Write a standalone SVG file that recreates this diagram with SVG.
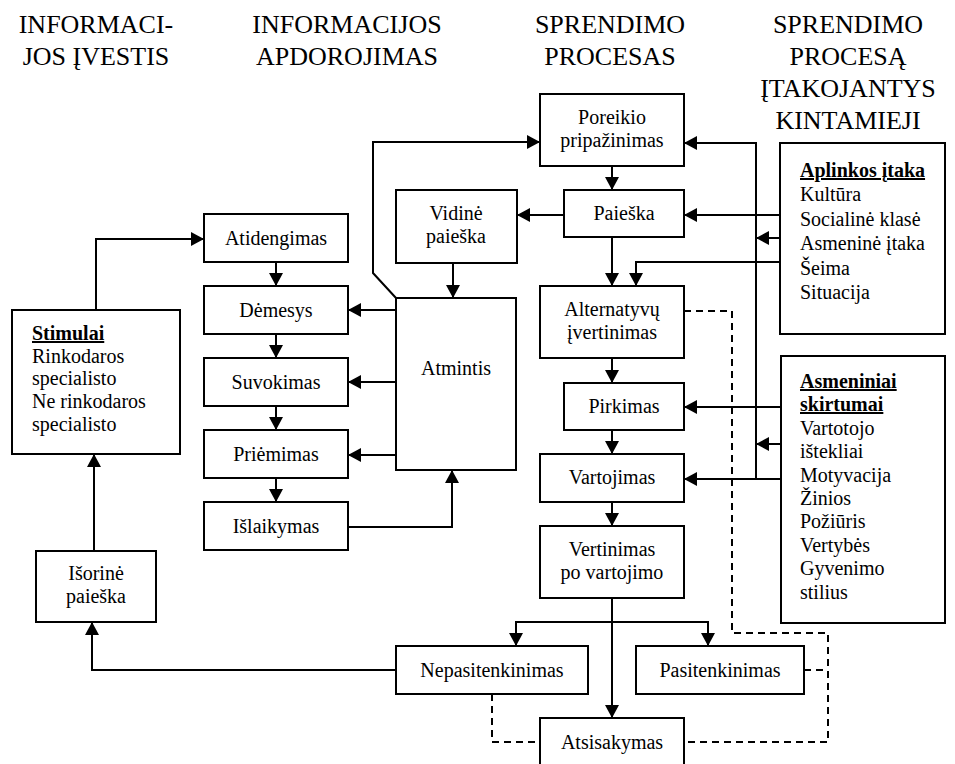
<svg xmlns="http://www.w3.org/2000/svg" width="955" height="764" viewBox="0 0 955 764">
<style>
.box{fill:#fff;stroke:#000;stroke-width:2}
.t{font-family:"Liberation Serif","Times New Roman",serif;font-size:20px;fill:#000}
.c{text-anchor:middle}
.h{font-family:"Liberation Serif","Times New Roman",serif;font-size:26px;fill:#000;text-anchor:middle}
.b{font-weight:bold;text-decoration:underline}
.ln{fill:none;stroke:#000;stroke-width:2}
.ar{marker-end:url(#ah)}
.d{fill:none;stroke:#000;stroke-width:2;stroke-dasharray:7 5}
</style>
<defs>
<marker id="ah" markerUnits="userSpaceOnUse" markerWidth="14" markerHeight="14" refX="13" refY="7" orient="auto">
<path d="M0,0 L13,7 L0,14 z" fill="#000"/>
</marker>
</defs>
<rect width="955" height="764" fill="#fff"/>
<g id="headers">
<text class="h" x="96" y="33">INFORMACI-</text>
<text class="h" x="96" y="65">JOS ĮVESTIS</text>
<text class="h" x="347" y="33">INFORMACIJOS</text>
<text class="h" x="347" y="65">APDOROJIMAS</text>
<text class="h" x="610" y="33">SPRENDIMO</text>
<text class="h" x="610" y="65">PROCESAS</text>
<text class="h" x="848" y="33">SPRENDIMO</text>
<text class="h" x="848" y="65">PROCESĄ</text>
<text class="h" x="848" y="97">ĮTAKOJANTYS</text>
<text class="h" x="848" y="129">KINTAMIEJI</text>
</g>
<g id="connectors">
<path class="ln ar" d="M612,166 V190"/>
<path class="ln ar" d="M564,215 H517"/>
<path class="ln ar" d="M453,263 V298"/>
<path class="ln ar" d="M612,237 V286"/>
<path class="ln ar" d="M780,262 H636 V286"/>
<path class="ln ar" d="M780,215 H684"/>
<path class="ln ar" d="M780,238 H756"/>
<path class="ln ar" d="M756,479 V143 H684"/>
<path class="ln ar" d="M781,407 H684"/>
<path class="ln ar" d="M781,444 H756"/>
<path class="ln ar" d="M781,479 H684"/>
<path class="ln ar" d="M612,358 V383"/>
<path class="ln ar" d="M612,430 V454"/>
<path class="ln ar" d="M612,502 V526"/>
<path class="ln ar" d="M612,598 V718"/>
<path class="ln ar" d="M612,622 H516 V646"/>
<path class="ln ar" d="M612,622 H708 V646"/>
<path class="ln ar" d="M396,670 H92 V622"/>
<path class="ln ar" d="M94,551 V454"/>
<path class="ln ar" d="M96,310 V239 H204"/>
<path class="ln ar" d="M276,262 V286"/>
<path class="ln ar" d="M276,334 V358"/>
<path class="ln ar" d="M276,406 V430"/>
<path class="ln ar" d="M276,478 V502"/>
<path class="ln ar" d="M396,310 H348"/>
<path class="ln ar" d="M396,382 H348"/>
<path class="ln ar" d="M396,455 H348"/>
<path class="ln ar" d="M348,527 H452 V470"/>
<path class="ln ar" d="M396,298 L373,273 V142 H540"/>
<path class="d" d="M684,311 H732 V633 H828 V742 H684"/>
<path class="d" d="M804,670 H828"/>
<path class="d" d="M492,694 V742 H540"/>
</g>
<g id="poreikio"><rect class="box" x="540" y="94" width="144" height="72"/><text class="t c" x="612" y="124">Poreikio</text><text class="t c" x="612" y="147">pripažinimas</text></g>
<g id="paieska"><rect class="box" x="564" y="190" width="120" height="47"/><text class="t c" x="624" y="220">Paieška</text></g>
<g id="vidine"><rect class="box" x="396" y="190" width="121" height="73"/><text class="t c" x="456" y="220">Vidinė</text><text class="t c" x="456" y="243">paieška</text></g>
<g id="atmintis"><rect class="box" x="396" y="298" width="120" height="172"/><text class="t c" x="456" y="375">Atmintis</text></g>
<g id="alternatyvu"><rect class="box" x="540" y="286" width="144" height="72"/><text class="t c" x="612" y="316">Alternatyvų</text><text class="t c" x="612" y="339">įvertinimas</text></g>
<g id="pirkimas"><rect class="box" x="564" y="383" width="120" height="47"/><text class="t c" x="624" y="413">Pirkimas</text></g>
<g id="vartojimas"><rect class="box" x="540" y="454" width="144" height="48"/><text class="t c" x="612" y="484">Vartojimas</text></g>
<g id="vertinimas"><rect class="box" x="540" y="526" width="144" height="72"/><text class="t c" x="612" y="556">Vertinimas</text><text class="t c" x="612" y="579">po vartojimo</text></g>
<g id="nepasitenkinimas"><rect class="box" x="396" y="646" width="192" height="48"/><text class="t c" x="492" y="677">Nepasitenkinimas</text></g>
<g id="pasitenkinimas"><rect class="box" x="636" y="646" width="168" height="48"/><text class="t c" x="720" y="677">Pasitenkinimas</text></g>
<g id="atsisakymas"><rect class="box" x="540" y="718" width="144" height="48"/><text class="t c" x="612" y="749">Atsisakymas</text></g>
<g id="atidengimas"><rect class="box" x="204" y="214" width="144" height="48"/><text class="t c" x="276" y="245">Atidengimas</text></g>
<g id="demesys"><rect class="box" x="204" y="286" width="144" height="48"/><text class="t c" x="276" y="317">Dėmesys</text></g>
<g id="suvokimas"><rect class="box" x="204" y="358" width="144" height="48"/><text class="t c" x="276" y="389">Suvokimas</text></g>
<g id="priemimas"><rect class="box" x="204" y="430" width="144" height="48"/><text class="t c" x="276" y="461">Priėmimas</text></g>
<g id="islaikymas"><rect class="box" x="204" y="502" width="144" height="48"/><text class="t c" x="276" y="533">Išlaikymas</text></g>
<g id="stimulai"><rect class="box" x="12" y="310" width="168" height="144"/>
<text class="t b" x="32" y="340">Stimulai</text>
<text class="t" x="32" y="363">Rinkodaros</text>
<text class="t" x="32" y="385">specialisto</text>
<text class="t" x="32" y="408">Ne rinkodaros</text>
<text class="t" x="32" y="431">specialisto</text></g>
<g id="isorine"><rect class="box" x="36" y="551" width="120" height="71"/><text class="t c" x="96" y="580">Išorinė</text><text class="t c" x="96" y="603">paieška</text></g>
<g id="aplinkos"><rect class="box" x="780" y="143" width="165" height="191"/>
<text class="t b" x="800" y="177">Aplinkos įtaka</text>
<text class="t" x="800" y="201">Kultūra</text>
<text class="t" x="800" y="226">Socialinė klasė</text>
<text class="t" x="800" y="250">Asmeninė įtaka</text>
<text class="t" x="800" y="275">Šeima</text>
<text class="t" x="800" y="299">Situacija</text></g>
<g id="asmeniniai"><rect class="box" x="781" y="356" width="164" height="267"/>
<text class="t b" x="800" y="388">Asmeniniai</text>
<text class="t b" x="800" y="411">skirtumai</text>
<text class="t" x="800" y="435">Vartotojo</text>
<text class="t" x="800" y="458">ištekliai</text>
<text class="t" x="800" y="482">Motyvacija</text>
<text class="t" x="800" y="505">Žinios</text>
<text class="t" x="800" y="528">Požiūris</text>
<text class="t" x="800" y="552">Vertybės</text>
<text class="t" x="800" y="575">Gyvenimo</text>
<text class="t" x="800" y="599">stilius</text></g>
</svg>
